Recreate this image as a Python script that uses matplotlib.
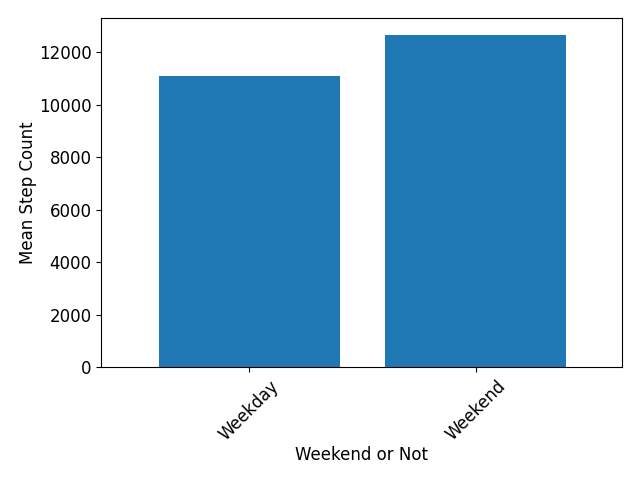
import matplotlib
matplotlib.use("Agg")
import matplotlib.pyplot as plt

categories = ["Weekday", "Weekend"]
mean_steps = [11090, 12660]

plt.rcParams["font.size"] = 12

fig, ax = plt.subplots(figsize=(6.4, 4.8), dpi=100)
ax.bar(categories, mean_steps, color="#1f77b4")
ax.set_xlim(-0.655, 1.646)
ax.set_xlabel("Weekend or Not", labelpad=1.5)
ax.set_ylabel("Mean Step Count", labelpad=1)
plt.xticks(rotation=45)
fig.subplots_adjust(left=0.158, right=0.972, top=0.9625, bottom=0.235)
fig.savefig("out.png")
